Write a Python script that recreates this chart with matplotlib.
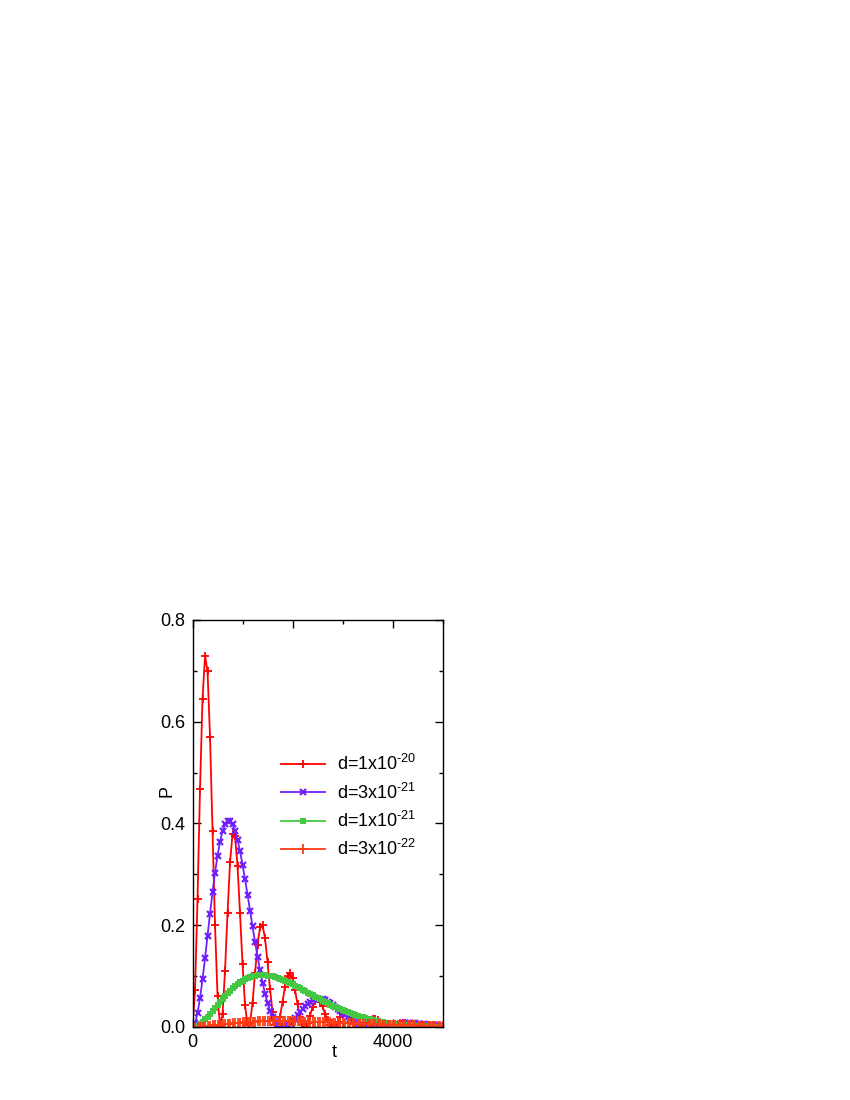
import numpy as np
import matplotlib
matplotlib.use("Agg")
import matplotlib.pyplot as plt
from matplotlib.ticker import MultipleLocator, FormatStrFormatter

plt.rcParams['font.family'] = ['Liberation Sans', 'DejaVu Sans']
plt.rcParams['mathtext.fontset'] = 'custom'
plt.rcParams['mathtext.rm'] = 'Liberation Sans'
plt.rcParams['mathtext.it'] = 'Liberation Sans'

t = list(range(0, 5001, 50))

p_d1e20 = [
    0.0, 0.0723, 0.2523, 0.4681, 0.6451, 0.7293, 0.6995, 0.5709, 0.3860, 0.1997,
    0.0614, 0.0017, 0.0248, 0.1109, 0.2237, 0.3235, 0.3790, 0.3753, 0.3167, 0.2233,
    0.1232, 0.0438, 0.0035, 0.0075, 0.0474, 0.1055, 0.1609, 0.1957, 0.2001, 0.1744,
    0.1279, 0.0748, 0.0299, 0.0042, 0.0018, 0.0196, 0.0491, 0.0794, 0.1003, 0.1061,
    0.0954, 0.0726, 0.0448, 0.0198, 0.0040, 0.0002, 0.0078, 0.0225, 0.0388, 0.0511,
    0.0558, 0.0518, 0.0409, 0.0264, 0.0127, 0.0032, 0.0000, 0.0029, 0.0101, 0.0187,
    0.0258, 0.0292, 0.0280, 0.0229, 0.0155, 0.0080, 0.0025, 0.0001, 0.0010, 0.0044,
    0.0090, 0.0129, 0.0152, 0.0150, 0.0127, 0.0089, 0.0049, 0.0018, 0.0001, 0.0003,
    0.0019, 0.0042, 0.0065, 0.0078, 0.0080, 0.0070, 0.0051, 0.0030, 0.0012, 0.0002,
    0.0001, 0.0008, 0.0019, 0.0032, 0.0040, 0.0042, 0.0038, 0.0029, 0.0018, 0.0008,
    0.0002]

p_d3e21 = [
    0.0, 0.0072, 0.0270, 0.0567, 0.0937, 0.1353, 0.1791, 0.2230, 0.2649, 0.3033,
    0.3367, 0.3642, 0.3851, 0.3989, 0.4057, 0.4055, 0.3987, 0.3859, 0.3679, 0.3454,
    0.3193, 0.2905, 0.2601, 0.2289, 0.1977, 0.1673, 0.1384, 0.1116, 0.0872, 0.0657,
    0.0472, 0.0319, 0.0198, 0.0107, 0.0046, 0.0011, 0.0000, 0.0010, 0.0037, 0.0077,
    0.0127, 0.0183, 0.0242, 0.0302, 0.0359, 0.0410, 0.0456, 0.0493, 0.0521, 0.0540,
    0.0549, 0.0549, 0.0540, 0.0522, 0.0498, 0.0467, 0.0432, 0.0393, 0.0352, 0.0310,
    0.0268, 0.0226, 0.0187, 0.0151, 0.0118, 0.0089, 0.0064, 0.0043, 0.0027, 0.0014,
    0.0006, 0.0001, 0.0000, 0.0001, 0.0005, 0.0010, 0.0017, 0.0025, 0.0033, 0.0041,
    0.0049, 0.0056, 0.0062, 0.0067, 0.0071, 0.0073, 0.0074, 0.0074, 0.0073, 0.0071,
    0.0067, 0.0063, 0.0058, 0.0053, 0.0048, 0.0042, 0.0036, 0.0031, 0.0025, 0.0020,
    0.0016]

p_d1e21 = [
    0.0, 0.0007, 0.0028, 0.0060, 0.0100, 0.0147, 0.0200, 0.0256, 0.0314, 0.0374,
    0.0434, 0.0494, 0.0552, 0.0608, 0.0661, 0.0711, 0.0759, 0.0802, 0.0842, 0.0877,
    0.0909, 0.0936, 0.0959, 0.0979, 0.0994, 0.1006, 0.1013, 0.1018, 0.1019, 0.1017,
    0.1011, 0.1003, 0.0992, 0.0979, 0.0964, 0.0946, 0.0927, 0.0907, 0.0884, 0.0861,
    0.0836, 0.0811, 0.0785, 0.0758, 0.0731, 0.0704, 0.0677, 0.0649, 0.0622, 0.0594,
    0.0567, 0.0541, 0.0515, 0.0489, 0.0464, 0.0439, 0.0415, 0.0392, 0.0369, 0.0348,
    0.0327, 0.0306, 0.0287, 0.0268, 0.0251, 0.0234, 0.0217, 0.0202, 0.0187, 0.0173,
    0.0160, 0.0148, 0.0136, 0.0125, 0.0114, 0.0105, 0.0096, 0.0087, 0.0079, 0.0072,
    0.0065, 0.0059, 0.0053, 0.0047, 0.0042, 0.0038, 0.0034, 0.0030, 0.0026, 0.0023,
    0.0020, 0.0018, 0.0015, 0.0013, 0.0011, 0.0010, 0.0008, 0.0007, 0.0006, 0.0005,
    0.0004]

p_d3e22 = [
    0.0, 0.0001, 0.0003, 0.0005, 0.0009, 0.0013, 0.0018, 0.0023, 0.0029, 0.0034,
    0.0040, 0.0046, 0.0051, 0.0057, 0.0062, 0.0068, 0.0073, 0.0077, 0.0082, 0.0086,
    0.0090, 0.0094, 0.0097, 0.0100, 0.0103, 0.0105, 0.0108, 0.0109, 0.0111, 0.0112,
    0.0113, 0.0114, 0.0115, 0.0115, 0.0115, 0.0115, 0.0115, 0.0115, 0.0114, 0.0113,
    0.0112, 0.0111, 0.0110, 0.0109, 0.0108, 0.0106, 0.0104, 0.0103, 0.0101, 0.0099,
    0.0097, 0.0095, 0.0094, 0.0092, 0.0090, 0.0088, 0.0086, 0.0084, 0.0081, 0.0079,
    0.0077, 0.0075, 0.0073, 0.0071, 0.0069, 0.0067, 0.0065, 0.0063, 0.0062, 0.0060,
    0.0058, 0.0056, 0.0054, 0.0052, 0.0051, 0.0049, 0.0047, 0.0046, 0.0044, 0.0043,
    0.0041, 0.0040, 0.0038, 0.0037, 0.0036, 0.0034, 0.0033, 0.0032, 0.0031, 0.0030,
    0.0028, 0.0027, 0.0026, 0.0025, 0.0024, 0.0023, 0.0022, 0.0021, 0.0021, 0.0020,
    0.0019]

labels = ['d=1x10$^{\u201020}$', 'd=3x10$^{\u201021}$', 'd=1x10$^{\u201021}$', 'd=3x10$^{\u201022}$']

# --- figure ---
fig = plt.figure(figsize=(8.5, 11), dpi=100)
ax = fig.add_axes([0.2265, 0.0664, 0.2941, 0.37])

ax.plot(t, p_d1e20, color='#ff0000', lw=1.3, marker='+', ms=6, mew=1.3, label=labels[0])
ax.plot(t, p_d3e21, color='#7020ff', lw=1.3, marker='x', ms=4.5, mew=1.6, label=labels[1])
ax.plot(t, p_d1e21, color='#44c844', lw=1.3, marker='s', ms=3.8, mew=0, label=labels[2])
ax.plot(t, p_d3e22, color='#ff3c14', lw=1.3, marker='+', ms=7.5, mew=1.3, label=labels[3])

ax.set_xlim(0, 5000)
ax.set_ylim(0, 0.8)
ax.xaxis.set_major_locator(MultipleLocator(2000))
ax.xaxis.set_minor_locator(MultipleLocator(1000))
ax.yaxis.set_major_locator(MultipleLocator(0.2))
ax.yaxis.set_minor_locator(MultipleLocator(0.1))
ax.yaxis.set_major_formatter(FormatStrFormatter('%.1f'))
ax.tick_params(which='both', direction='in', top=True, right=True, labelsize=13, width=1)
ax.tick_params(which='major', length=6, pad=5)
ax.tick_params(which='minor', length=3)
for s in ax.spines.values():
    s.set_linewidth(1.0)

ax.set_xlabel('t', fontsize=13)
ax.set_ylabel('P', fontsize=13)
ax.xaxis.set_label_coords(0.566, -0.042)
ax.yaxis.set_label_coords(-0.07, 0.58)

ax.legend(loc='upper left', bbox_to_anchor=(0.355, 0.670), frameon=False,
          fontsize=13, handlelength=2.4, handletextpad=0.7, labelspacing=0.45,
          borderpad=0, borderaxespad=0)

fig.savefig("out.png", dpi=100)
